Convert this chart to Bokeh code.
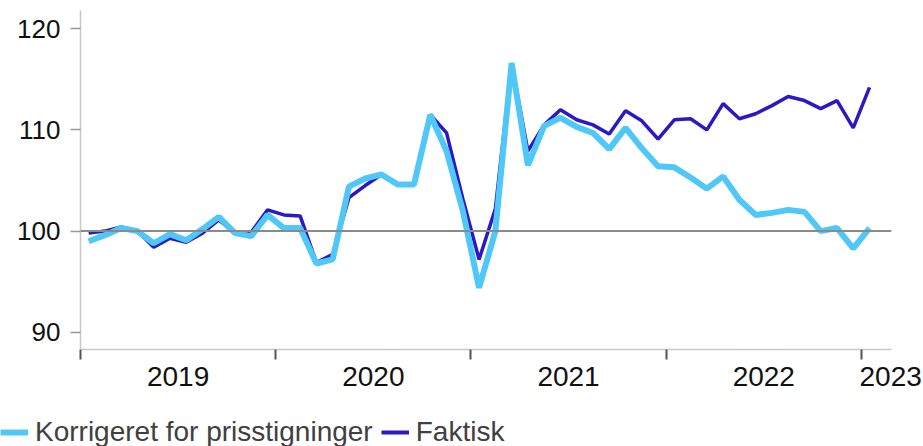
from bokeh.plotting import figure
from bokeh.layouts import column
from bokeh.models import FixedTicker, Span, Legend, LegendItem, Range1d
from bokeh.embed import file_html
from bokeh.resources import INLINE

# Monthly index values, Jan 2019 - Jan 2023
korrigeret = [
    99.0, 99.6, 100.3, 100.0, 98.8, 99.7, 99.1, 100.2, 101.4, 99.8, 99.5, 101.6,
    100.3, 100.3, 96.8, 97.2, 104.4, 105.2, 105.6, 104.6, 104.6, 111.5, 107.9, 102.0,
    94.4, 100.0, 116.6, 106.5, 110.4, 111.2, 110.3, 109.7, 108.1, 110.2, 108.2, 106.4,
    106.3, 105.3, 104.2, 105.4, 103.1, 101.6, 101.8, 102.1, 101.9, 100.0, 100.3, 98.3,
    100.3,
]
faktisk = [
    99.8, 100.0, 100.4, 100.0, 98.4, 99.3, 98.9, 99.8, 101.1, 99.8, 99.9, 102.1,
    101.6, 101.5, 96.9, 97.7, 103.3, 104.5, 105.6, 104.6, 104.6, 111.5, 109.7, 103.2,
    97.2, 102.2, 116.6, 107.9, 110.5, 112.0, 111.0, 110.5, 109.6, 111.9, 110.9, 109.1,
    111.0, 111.1, 110.0, 112.6, 111.1, 111.6, 112.4, 113.3, 112.9, 112.1, 112.9, 110.2,
    114.2,
]
years = ["2019", "2020", "2021", "2022", "2023"]
y_ticks = [90, 100, 110, 120]
series_names = ["Korrigeret for prisstigninger", "Faktisk"]

months = [i + 0.5 for i in range(len(korrigeret))]

FONT = "Liberation Sans"
LIGHT = "#50C8F7"
DARK = "#2B19C6"
LW_LIGHT = 6
LW_DARK = 3.5

p = figure(width=923, height=416, output_backend="svg", toolbar_location=None,
           x_range=Range1d(0, 49.85), y_range=Range1d(88.3, 121.8))
p.min_border_left = 80
p.min_border_right = 32
p.min_border_top = 10
p.min_border_bottom = 67
p.outline_line_color = None
p.xgrid.visible = False
p.ygrid.visible = False

ref = Span(location=100, dimension="width", line_color="#8a8a8a", line_width=2)
p.add_layout(ref)

p.line(months, faktisk, line_color=DARK, line_width=LW_DARK)
p.line(months, korrigeret, line_color=LIGHT, line_width=LW_LIGHT)

# x axis: year labels at mid-year, boundary ticks as minor ticks
label_pos = [6, 18, 30, 42, 49.8]
p.xaxis.ticker = FixedTicker(ticks=label_pos, minor_ticks=[0, 12, 24, 36, 48])
p.xaxis.major_label_overrides = {pos: y for pos, y in zip(label_pos, years)}
p.xaxis.major_tick_out = 0
p.xaxis.major_tick_in = 0
p.xaxis.minor_tick_out = 10
p.xaxis.minor_tick_in = 0
p.xaxis.minor_tick_line_color = "#555555"
p.xaxis.minor_tick_line_width = 2
p.xaxis.axis_line_color = "#c8c8c8"
p.xaxis.axis_line_width = 1.5
p.xaxis.major_label_text_font = FONT
p.xaxis.major_label_text_font_size = "28px"
p.xaxis.major_label_text_color = "#111111"
p.xaxis.major_label_standoff = 7

p.yaxis.ticker = FixedTicker(ticks=y_ticks)
p.yaxis.major_tick_out = 10
p.yaxis.major_tick_in = 0
p.yaxis.major_tick_line_color = "#999999"
p.yaxis.major_tick_line_width = 1.5
p.yaxis.minor_tick_line_color = None
p.yaxis.axis_line_color = "#c8c8c8"
p.yaxis.axis_line_width = 1.5
p.yaxis.major_label_text_font = FONT
p.yaxis.major_label_text_font_size = "26px"
p.yaxis.major_label_text_color = "#111111"
p.yaxis.major_label_standoff = 10

# legend strip below the chart (its lines lie outside its ranges; only the legend shows)
lg = figure(frame_width=923, frame_height=30, output_backend="svg", toolbar_location=None,
            x_range=Range1d(0, 1), y_range=Range1d(0, 1))
lg.min_border_left = 0
lg.min_border_right = 0
lg.min_border_top = 0
lg.min_border_bottom = 0
lg.outline_line_color = None
lg.xaxis.visible = False
lg.yaxis.visible = False
lg.xgrid.visible = False
lg.ygrid.visible = False
lg_light = lg.line(months, korrigeret, line_color=LIGHT, line_width=LW_LIGHT)
lg_dark = lg.line(months, faktisk, line_color=DARK, line_width=4)

legend = Legend(items=[LegendItem(label=series_names[0], renderers=[lg_light]),
                       LegendItem(label=series_names[1], renderers=[lg_dark])],
                orientation="horizontal", location="top_left")
legend.label_text_font = FONT
legend.label_text_font_size = "28px"
legend.label_text_color = "#404040"
legend.label_height = 30
legend.glyph_width = 28
legend.glyph_height = 30
legend.label_standoff = 7
legend.spacing = 8
legend.padding = 0
legend.margin = 0
legend.border_line_color = None
legend.background_fill_alpha = 0
lg.add_layout(legend, "center")

layout = column(p, lg, spacing=0)
open("out.html", "w").write(file_html(layout, INLINE))
